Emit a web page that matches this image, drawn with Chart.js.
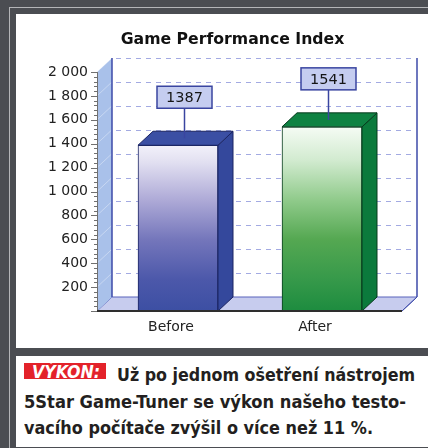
<!DOCTYPE html>
<html>
<head>
<meta charset="utf-8">
<script src="https://cdn.jsdelivr.net/npm/chart.js@4.4.1/dist/chart.umd.min.js"></script>
<style>
  html, body { margin: 0; padding: 0; }
  body { width: 428px; height: 448px; background: #4b4d52; position: relative; overflow: hidden; }
  .rule { position: absolute; left: 9px; top: 7px; right: 0; bottom: 0; border-left: 1px solid #b4b5b8; border-top: 1px solid #b4b5b8; }
  .panel { position: absolute; left: 16px; width: 412px; background: #fff; }
  #chartPanel { top: 14px; height: 334px; }
  #captionPanel { top: 356px; height: 91px; }
  canvas { display: block; }
  .line { position: absolute; white-space: nowrap; font-family: "Liberation Sans Narrow", "DejaVu Sans Condensed", sans-serif;
          font-weight: bold; font-size: 18px; line-height: 18px; color: #231f20; transform-origin: 0 0; }
  .tag { position: absolute; left: 24px; top: 363px; width: 82px; height: 16px; background: #e3222a; }
  .tagText { color: #fff; font-style: italic; font-size: 17px; line-height: 17px; }
</style>
</head>
<body>
<div class="rule"></div>
<div class="panel" id="chartPanel"><canvas id="chart" width="412" height="334"></canvas></div>
<div class="panel" id="captionPanel"></div>
<div class="tag"></div>
<span class="line tagText" id="t0" style="left:32px; top:364px;">VÝKON:</span>
<span class="line" id="t1" style="left:117px; top:366px;">Už po jednom ošetření nástrojem</span>
<span class="line" id="t2" style="left:24px; top:393px;">5Star Game-Tuner se výkon našeho testo-</span>
<span class="line" id="t3" style="left:24px; top:419px;">vacího počítače zvýšil o více než 11 %.</span>

<script>
// data
const chartTitle = 'Game Performance Index';
const categories = ['Before', 'After'];
const scores = [1387, 1541];
const yTickValues = [200, 400, 600, 800, 1000, 1200, 1400, 1600, 1800, 2000];
const yMax = 2000;

// depth of the 3D look
const DX = 15, DY = 14;

// colours per bar (front gradient stops, side, top, edge)
const barStyles = [
  { stops: [[0, '#f2f1fa'], [0.1, '#e2e0f1'], [0.33, '#aeaad7'], [0.57, '#7476bb'], [0.81, '#4c58aa'], [1, '#3c4fa3']],
    side: '#34489c', top: '#3b4fa4', edge: '#1b2462' },
  { stops: [[0, '#f5fbf4'], [0.18, '#d2ebd0'], [0.4, '#8fca8a'], [0.61, '#55a852'], [0.83, '#36994a'], [1, '#1d8c3f']],
    side: '#0b7a3c', top: '#0e8242', edge: '#073a1d' }
];

const fmt = v => String(v).replace(/\B(?=(\d{3})+(?!\d))/g, ' ');
const tickFont = { family: 'DejaVu Sans', size: 14 };

function poly(ctx, pts, fill, stroke, lw) {
  ctx.beginPath();
  ctx.moveTo(pts[0][0], pts[0][1]);
  for (let i = 1; i < pts.length; i++) ctx.lineTo(pts[i][0], pts[i][1]);
  ctx.closePath();
  if (fill) { ctx.fillStyle = fill; ctx.fill(); }
  if (stroke) { ctx.strokeStyle = stroke; ctx.lineWidth = lw || 1; ctx.stroke(); }
}

const box3d = {
  id: 'box3d',
  beforeDatasetsDraw(chart) {
    const { ctx, chartArea: a, scales: { y } } = chart;
    const x0 = a.left - 9, x1 = a.right + 8;
    const yb = y.getPixelForValue(0), yt = y.getPixelForValue(yMax);
    ctx.save();
    // title
    ctx.fillStyle = '#111';
    ctx.font = 'bold 15.7px "DejaVu Sans"';
    ctx.textAlign = 'center';
    ctx.textBaseline = 'middle';
    ctx.fillText(chartTitle, (x0 + x1) / 2 - 17, 26);
    // floor
    poly(ctx, [[x0, yb], [x1, yb], [x1 + DX, yb - DY], [x0 + DX, yb - DY]], '#c7ccee', '#5863bb', 1);
    // left wall
    poly(ctx, [[x0, yt], [x0 + DX, yt - DY], [x0 + DX, yb - DY], [x0, yb]], '#a9c1ea', null);
    // faint lines on the left wall
    ctx.strokeStyle = 'rgba(255,255,255,0.35)';
    ctx.lineWidth = 1;
    yTickValues.forEach(v => {
      const py = y.getPixelForValue(v);
      ctx.beginPath(); ctx.moveTo(x0, py); ctx.lineTo(x0 + DX, py - DY); ctx.stroke();
    });
    // dashed grid on the back wall
    ctx.setLineDash([5, 5]);
    ctx.strokeStyle = '#a3aae2';
    yTickValues.forEach(v => {
      const py = Math.round(y.getPixelForValue(v) - DY) + 0.5;
      ctx.beginPath(); ctx.moveTo(x0 + DX + 4, py); ctx.lineTo(x1 + DX - 4, py); ctx.stroke();
    });
    ctx.setLineDash([]);
    // back wall edges
    ctx.strokeStyle = '#3d4aa8';
    ctx.lineWidth = 1.5;
    [x0 + DX, x1 + DX].forEach(px => {
      ctx.beginPath(); ctx.moveTo(px, yt - DY); ctx.lineTo(px, yb - DY); ctx.stroke();
    });
    // floor right edge
    ctx.lineWidth = 1;
    ctx.beginPath(); ctx.moveTo(x1, yb); ctx.lineTo(x1 + DX, yb - DY); ctx.stroke();
    // y axis line with ticks
    ctx.strokeStyle = '#707070';
    ctx.beginPath(); ctx.moveTo(x0 + 0.5, yt); ctx.lineTo(x0 + 0.5, yb); ctx.stroke();
    for (let v = 0; v <= yMax; v += 40) {
      const py = Math.round(y.getPixelForValue(v)) + 0.5;
      const len = v % 200 === 0 ? 6 : 3;
      ctx.beginPath(); ctx.moveTo(x0 - len, py); ctx.lineTo(x0, py); ctx.stroke();
    }
    ctx.restore();
  },
  afterDatasetsDraw(chart) {
    const { ctx, chartArea: a, scales: { y } } = chart;
    const x0 = a.left - 9, x1 = a.right + 8;
    const yb = y.getPixelForValue(0);
    const meta = chart.getDatasetMeta(0);
    ctx.save();
    meta.data.forEach((bar, i) => {
      const st = barStyles[i];
      const l = bar.x - bar.width / 2, r = bar.x + bar.width / 2, t = bar.y, b = bar.base;
      poly(ctx, [[r, t], [r + DX, t - DY], [r + DX, b - DY], [r, b]], st.side, st.edge, 1);
      poly(ctx, [[l, t], [r, t], [r + DX, t - DY], [l + DX, t - DY]], st.top, st.edge, 1);
    });
    // front baseline
    ctx.strokeStyle = '#2e2e2e';
    ctx.lineWidth = 2;
    ctx.beginPath(); ctx.moveTo(x0, yb); ctx.lineTo(x1, yb); ctx.stroke();
    // value labels
    meta.data.forEach((bar, i) => {
      const cx = Math.round(bar.x + 5.5) + 0.5;
      const bottom = bar.y - 37, w = 55, h = 22;
      ctx.strokeStyle = '#3a45a0';
      ctx.lineWidth = 1.5;
      ctx.beginPath(); ctx.moveTo(cx, bottom); ctx.lineTo(cx, bar.y - 7); ctx.stroke();
      ctx.fillStyle = '#c5cdf0';
      ctx.fillRect(cx - w / 2, bottom - h, w, h);
      ctx.strokeRect(cx - w / 2, bottom - h, w, h);
      ctx.fillStyle = '#151515';
      ctx.font = '14.5px "DejaVu Sans"';
      ctx.textAlign = 'center';
      ctx.textBaseline = 'middle';
      ctx.fillText(String(scores[i]), cx, bottom - h / 2 + 1);
    });
    ctx.restore();
  }
};

new Chart(document.getElementById('chart'), {
  type: 'bar',
  data: {
    labels: categories,
    datasets: [{
      data: scores,
      barThickness: 80,
      borderWidth: 1,
      borderSkipped: false,
      borderColor: barStyles.map(s => s.edge),
      backgroundColor: (c) => {
        const chart = c.chart;
        const st = barStyles[c.dataIndex % barStyles.length];
        if (!chart.chartArea || c.type !== 'data') return st.stops[3][1];
        const y = chart.scales.y;
        const g = chart.ctx.createLinearGradient(0, y.getPixelForValue(scores[c.dataIndex]), 0, y.getPixelForValue(0));
        st.stops.forEach(s => g.addColorStop(s[0], s[1]));
        return g;
      }
    }]
  },
  options: {
    responsive: false,
    animation: false,
    layout: { padding: { left: 10, right: 34, top: 58, bottom: 0 } },
    plugins: {
      legend: { display: false },
      tooltip: { enabled: false },
      title: { display: false }
    },
    scales: {
      x: {
        grid: { display: false, drawTicks: false },
        border: { display: false },
        ticks: { font: tickFont, color: '#222', padding: 8, labelOffset: -7 },
        afterFit: s => { s.height = 37; }
      },
      y: {
        min: 0,
        max: yMax,
        grid: { display: false, drawTicks: false },
        border: { display: false },
        ticks: { font: tickFont, color: '#222', padding: 18, callback: v => fmt(v) },
        afterBuildTicks: s => { s.ticks = yTickValues.map(v => ({ value: v })); },
        afterFit: s => { s.width = 80; }
      }
    }
  },
  plugins: [box3d]
});

// squeeze caption lines to the widths in the picture
const widths = { t0: 68, t1: 298, t2: 382, t3: 349 };
Object.keys(widths).forEach(id => {
  const el = document.getElementById(id);
  const w = el.getBoundingClientRect().width;
  el.style.transform = 'scaleX(' + (widths[id] / w) + ')';
});
</script>
</body>
</html>
